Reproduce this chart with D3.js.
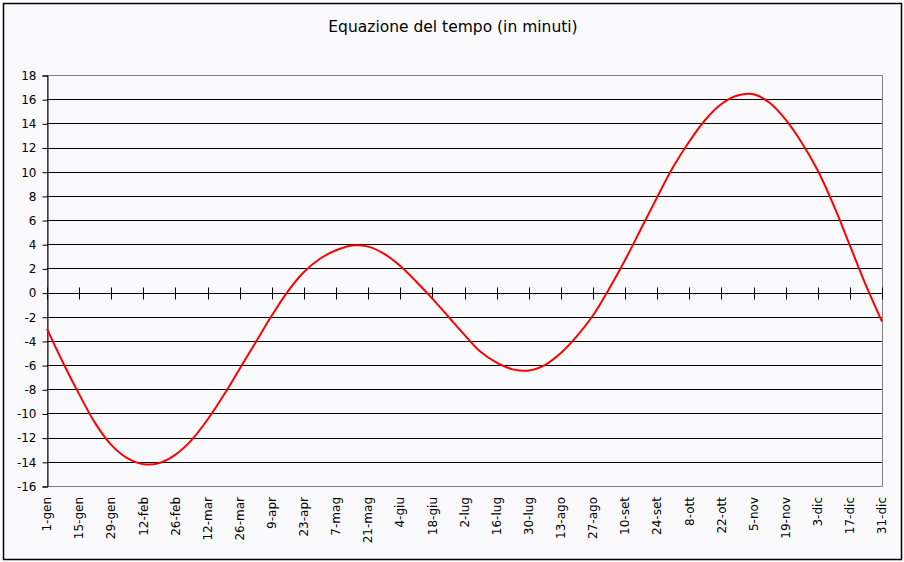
<!DOCTYPE html>
<html>
<head>
<meta charset="utf-8">
<script src="https://cdn.jsdelivr.net/npm/d3@7"></script>
<style>
  html, body { margin: 0; padding: 0; background: #ffffff; }
  svg { display: block; }
  text { font-family: "DejaVu Sans", Verdana, sans-serif; fill: #000; }
</style>
</head>
<body>
<svg id="chart" width="904" height="562"></svg>
<script>
// ---- Data ----
const title = "Equazione del tempo (in minuti)";

// weekly dates (category axis)
const weekLabels = [
  "1-gen","8-gen","15-gen","22-gen","29-gen","5-feb","12-feb","19-feb","26-feb",
  "5-mar","12-mar","19-mar","26-mar","2-apr","9-apr","16-apr","23-apr","30-apr",
  "7-mag","14-mag","21-mag","28-mag","4-giu","11-giu","18-giu","25-giu",
  "2-lug","9-lug","16-lug","23-lug","30-lug","6-ago","13-ago","20-ago","27-ago",
  "3-set","10-set","17-set","24-set","1-ott","8-ott","15-ott","22-ott","29-ott",
  "5-nov","12-nov","19-nov","26-nov","3-dic","10-dic","17-dic","24-dic","31-dic"
];

// equation of time (minutes)
const eqTime = [
  -3.0, -5.8, -8.4, -10.8, -12.6, -13.7, -14.2, -14.1, -13.4,
  -12.2, -10.5, -8.5, -6.3, -4.1, -1.9, 0.1, 1.7, 2.8,
  3.5, 3.9, 3.8, 3.2, 2.2, 0.9, -0.5, -2.0,
  -3.5, -4.9, -5.8, -6.35, -6.45, -6.0, -5.0, -3.6, -1.9,
  0.3, 2.7, 5.3, 7.9, 10.4, 12.5, 14.3, 15.6, 16.3,
  16.4, 15.7, 14.3, 12.4, 10.1, 7.2, 3.9, 0.6, -2.4
];

// shown tick labels on the x axis
const xTickLabels = [
  "1-gen","15-gen","29-gen","12-feb","26-feb","12-mar","26-mar","9-apr","23-apr",
  "7-mag","21-mag","4-giu","18-giu","2-lug","16-lug","30-lug","13-ago","27-ago",
  "10-set","24-set","8-ott","22-ott","5-nov","19-nov","3-dic","17-dic","31-dic"
];

const yTicks = [-16,-14,-12,-10,-8,-6,-4,-2,0,2,4,6,8,10,12,14,16,18];

// ---- Layout ----
const W = 904, H = 562;
const plot = { left: 47, right: 882, top: 75, bottom: 486 };

const svg = d3.select("#chart");

// background + outer frame
svg.append("rect")
  .attr("x", 0).attr("y", 0).attr("width", W).attr("height", H)
  .attr("fill", "#ffffff");
svg.append("rect")
  .attr("x", 3.5).attr("y", 3.5).attr("width", W - 6).attr("height", H - 6)
  .attr("fill", "#fafafd").attr("stroke", "#000").attr("stroke-width", 1.5);

// title
svg.append("text")
  .attr("x", 453).attr("y", 32)
  .attr("text-anchor", "middle")
  .style("font-size", "15.5px")
  .text(title);

const x = d3.scalePoint().domain(weekLabels).range([plot.left, plot.right]);
const y = d3.scaleLinear().domain([-16, 18]).range([plot.bottom, plot.top]);

const crisp = v => Math.round(v) + 0.5;

// plot border (gray top/right/bottom)
svg.append("rect")
  .attr("x", crisp(plot.left)).attr("y", crisp(plot.top))
  .attr("width", Math.round(plot.right - plot.left))
  .attr("height", Math.round(plot.bottom - plot.top))
  .attr("fill", "none").attr("stroke", "#808080").attr("stroke-width", 1);

// gridlines
svg.append("g").selectAll("line")
  .data(yTicks.filter(d => d !== -16 && d !== 18))
  .join("line")
  .attr("x1", plot.left).attr("x2", plot.right)
  .attr("y1", d => crisp(y(d))).attr("y2", d => crisp(y(d)))
  .attr("stroke", "#000").attr("stroke-width", 1);

// y axis
const yAxis = d3.axisLeft(y)
  .tickValues(yTicks)
  .tickSize(5)
  .tickPadding(6)
  .tickFormat(d => String(d));
const gy = svg.append("g")
  .attr("transform", `translate(${crisp(plot.left)},0.5)`)
  .call(yAxis);
gy.select(".domain").attr("stroke", "#000");
gy.selectAll(".tick line").attr("stroke", "#000");
gy.selectAll(".tick text")
  .style("font-size", "12px")
  .style("font-family", "'DejaVu Sans', Verdana, sans-serif")
  .attr("fill", "#000");

// x category axis on zero line, ticks crossing it
const gx = svg.append("g")
  .attr("transform", `translate(0,${crisp(y(0))})`);
gx.selectAll("line.xt")
  .data(xTickLabels)
  .join("line")
  .attr("class", "xt")
  .attr("x1", d => crisp(x(d))).attr("x2", d => crisp(x(d)))
  .attr("y1", -6).attr("y2", 6)
  .attr("stroke", "#000").attr("stroke-width", 1);

// x labels (rotated, below plot)
svg.append("g").selectAll("text")
  .data(xTickLabels)
  .join("text")
  .attr("transform", d => `translate(${x(d)},${plot.bottom + 11}) rotate(-90)`)
  .attr("text-anchor", "end")
  .attr("dy", "0.35em")
  .style("font-size", "12px")
  .text(d => d);

// curve
const line = d3.line()
  .x((d, i) => x(weekLabels[i]))
  .y(d => y(d))
  .curve(d3.curveCatmullRom.alpha(0.5));

svg.append("path")
  .datum(eqTime)
  .attr("d", line)
  .attr("fill", "none")
  .attr("stroke", "#ff0000")
  .attr("stroke-width", 2);
</script>
</body>
</html>
